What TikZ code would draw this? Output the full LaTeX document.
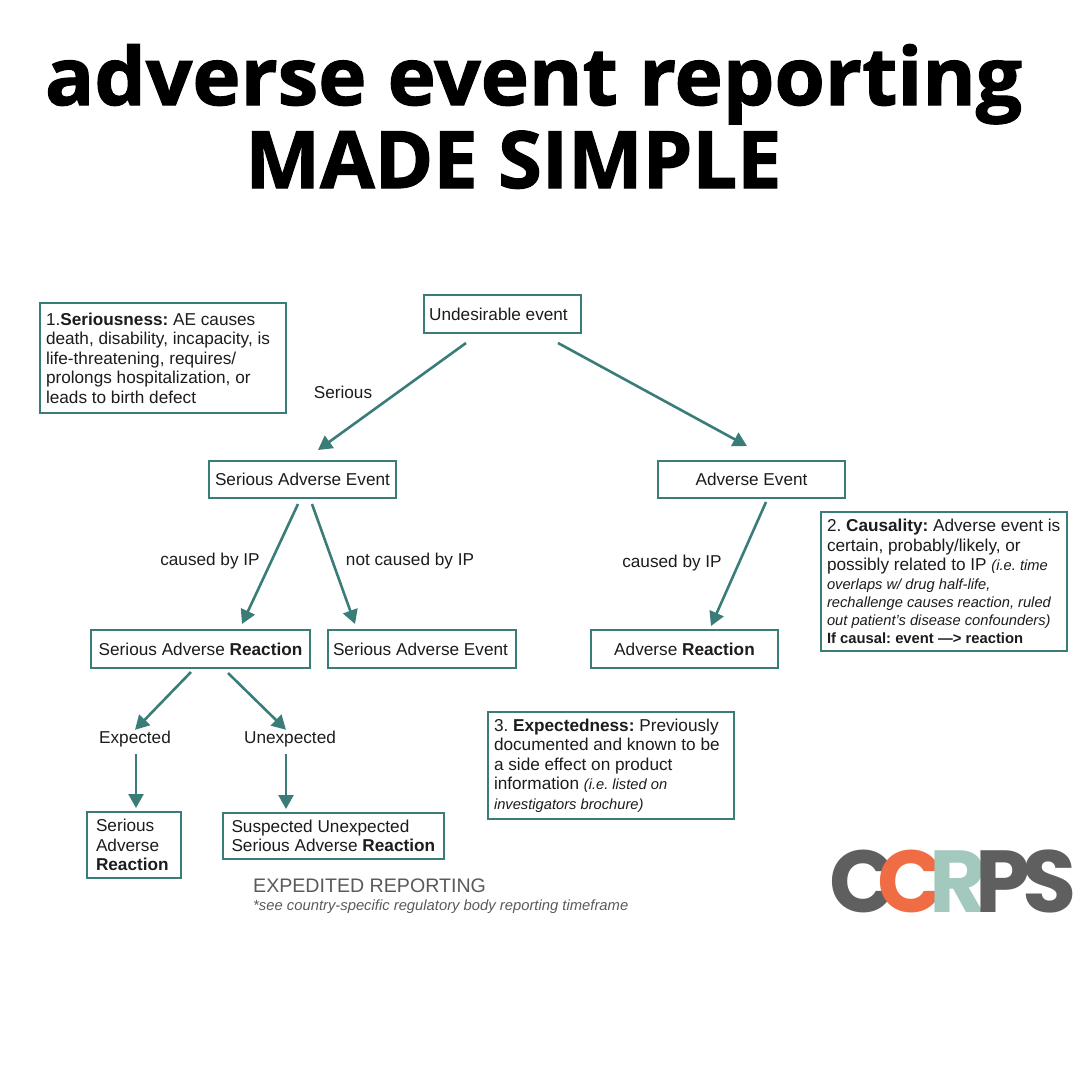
\documentclass[tikz,border=0pt]{standalone}
\usepackage{fontspec}
\setmainfont{Liberation Sans}
\newfontfamily\titlefont[FakeBold=1.5]{Open Sans Bold}
\newfontfamily\titlewide[FakeBold=1.5,FakeStretch=1.02]{Open Sans Bold}
\newfontfamily\logofont{Poppins Bold}
\definecolor{tealline}{HTML}{3A7D78}
\definecolor{inktext}{HTML}{1C1C1C}
\definecolor{greytext}{HTML}{5A5A5A}
\definecolor{logogrey}{HTML}{5F5F5F}
\definecolor{logoorange}{HTML}{F06C45}
\definecolor{logomint}{HTML}{A3C8BE}
\usetikzlibrary{arrows.meta}
\tikzset{
  txt/.style={font=\frenchspacing\fontsize{17.2}{19.5}\selectfont, text=inktext, inner sep=0pt},
  box/.style={txt, draw=tealline, line width=2pt, fill=white, anchor=north west, outer sep=0pt},
  leftbox/.style={box, align=flush left, inner xsep=6pt},
  arr/.style={draw=tealline, line width=2.6pt, -{Triangle[length=14pt,width=15pt]}},
  ttl/.style={text=black, inner sep=0pt, anchor=base},
  logo/.style={font=\fontsize{88}{88}\selectfont\logofont, inner sep=0pt, anchor=base west},
}
\newcommand{\smit}[1]{{\fontsize{14.7}{19}\selectfont\itshape #1}}
\begin{document}
\begin{tikzpicture}[x=1pt,y=-1pt]
\useasboundingbox (0,0) rectangle (1080,1080);
\node[ttl] (title1) at (533.5,105) {\titlewide\fontsize{80}{80}\selectfont adverse event reporting};
\node[ttl] (title2) at (513.5,188) {\titlefont\fontsize{79.2}{80}\selectfont MADE SIMPLE};

\node[leftbox, minimum width=246pt, minimum height=110pt, text width=234pt] (serious) at (40,303)
  {1.\textbf{Seriousness:} AE causes\\death, disability, incapacity, is\\life-threatening, requires/\\prolongs hospitalization, or\\leads to birth defect};
\node[box, minimum width=157pt, minimum height=38pt] (undes) at (424,295) {\hspace*{-8pt}Undesirable event};
\node[box, minimum width=187pt, minimum height=37pt] (sae) at (209,461) {Serious Adverse Event};
\node[box, minimum width=187pt, minimum height=37pt] (ae) at (658,461) {Adverse Event};
\node[box, minimum width=219pt, minimum height=38pt] (sar) at (91,630) {Serious Adverse \textbf{Reaction}};
\node[box, minimum width=188pt, minimum height=38pt] (sae2) at (328,630) {\hspace*{-3pt}Serious Adverse Event};
\node[box, minimum width=187pt, minimum height=38pt] (ar) at (591,630) {Adverse \textbf{Reaction}};
\node[leftbox, minimum width=246pt, minimum height=139pt, text width=234pt] (causal) at (821,512)
  {2. \textbf{Causality:} Adverse event is\\certain, probably/likely, or\\possibly related to IP \smit{(i.e. time}\\[-1pt]
   \smit{overlaps w/ drug half-life,}\\[-1.5pt]\smit{rechallenge causes reaction, ruled}\\[-1.5pt]\smit{out patient’s disease confounders)}\\[-1.5pt]
   {\fontsize{14.8}{19}\selectfont\textbf{If causal: event —> reaction}}};
\node[txt] (expected) at (135,739) {Expected};
\node[txt] (unexpected) at (290,739) {Unexpected};
\node[leftbox, minimum width=94pt, minimum height=66pt, text width=76pt, inner xsep=9pt] (sar2) at (87,812)
  {Serious\\Adverse\\\textbf{Reaction}};
\node[leftbox, minimum width=221pt, minimum height=46pt, text width=204pt, inner xsep=8.5pt] (susar) at (223,813)
  {Suspected Unexpected\\Serious Adverse \textbf{Reaction}};
\node[leftbox, minimum width=246pt, minimum height=107pt, text width=234pt] (expect) at (488,712)
  {3. \textbf{Expectedness:} Previously\\documented and known to be\\a side effect on product\\information \smit{(i.e. listed on}\\\smit{investigators brochure)}};

\node[txt, anchor=base west, font=\fontsize{19.6}{20}\selectfont, text=greytext] (exped) at (253,892) {EXPEDITED REPORTING};
\node[txt, anchor=base west, font=\fontsize{14.8}{16}\selectfont\itshape, text=greytext] (note) at (253,910) {*see country-specific regulatory body reporting timeframe};

\node[txt] (lserious) at (343,392) {Serious};
\node[txt] (lcaused1) at (210,561) {caused by IP};
\node[txt] (lnot) at (410,561) {not caused by IP};
\node[txt] (lcaused2) at (672,563) {caused by IP};

\draw[arr] ([shift={(-36.5,10)}]undes.south) -- ([shift={(15.5,-11)}]sae.north);
\draw[arr] ([shift={(55.5,10)}]undes.south) -- ([shift={(-4.5,-15)}]ae.north);
\draw[arr] ([shift={(-4.5,6)}]sae.south) -- ([shift={(41.5,-6)}]sar.north);
\draw[arr] ([shift={(9.5,6)}]sae.south) -- ([shift={(-67,-6)}]sae2.north);
\draw[arr] ([shift={(14.5,4)}]ae.south) -- ([shift={(26.5,-4)}]ar.north);
\draw[arr] ([shift={(-9.5,4)}]sar.south) -- ([shift={(0,-1)}]expected.north);
\draw[arr] ([shift={(27.5,5)}]sar.south) -- ([shift={(-4,-1)}]unexpected.north);
\draw[arr] ([shift={(1,7)}]expected.south) -- ([shift={(2,-4)}]sar2.north);
\draw[arr] ([shift={(-4,7)}]unexpected.south) -- ([shift={(-47.5,-4)}]susar.north);

\node[logo, text=logogrey] (l1) at (829,912) {C};
\node[logo, text=logoorange] (l2) at (877,912) {C};
\node[logo, text=logomint] (l3) at (929,912) {R};
\node[logo, text=logogrey] (l4) at (975,912) {P};
\node[logo, text=logogrey] (l5) at (1022,912) {S};
\end{tikzpicture}
\end{document}
